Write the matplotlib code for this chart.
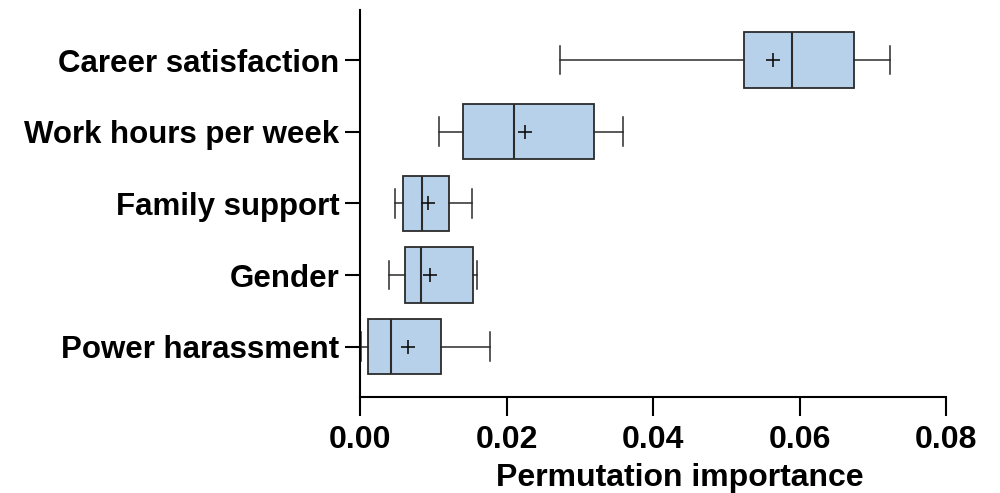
import numpy as np
import matplotlib.pyplot as plt
import matplotlib as mpl

mpl.rcParams['font.family'] = ['Liberation Sans', 'DejaVu Sans']
mpl.rcParams['font.weight'] = 'bold'

# features, bottom to top
features = ['Power harassment', 'Gender', 'Family support',
            'Work hours per week', 'Career satisfaction']
whislo = [0.0002, 0.0039, 0.0048, 0.0108, 0.0273]
q1 = [0.0011, 0.0061, 0.0059, 0.0141, 0.0524]
med = [0.0043, 0.0083, 0.0085, 0.0210, 0.0590]
q3 = [0.0111, 0.0154, 0.0121, 0.0319, 0.0674]
whishi = [0.0177, 0.0160, 0.0153, 0.0359, 0.0723]
mean = [0.0066, 0.0096, 0.0093, 0.0225, 0.0564]

xticks = [0.00, 0.02, 0.04, 0.06, 0.08]

stats = []
for i in range(len(features)):
    stats.append(dict(label=features[i], whislo=whislo[i], q1=q1[i], med=med[i],
                      q3=q3[i], whishi=whishi[i], mean=mean[i], fliers=[]))

fig = plt.figure(figsize=(10, 4.93), dpi=100)
ax = fig.add_axes([0.36, 0.195, 0.586, 0.785])

edge = '#2b2b2b'
ax.bxp(stats, positions=range(len(features)), vert=False, widths=0.77,
       patch_artist=True, showmeans=True, showfliers=False,
       boxprops=dict(facecolor='#b8d1eb', edgecolor=edge, linewidth=1.3),
       medianprops=dict(color=edge, linewidth=1.5),
       whiskerprops=dict(color=edge, linewidth=1.1),
       capprops=dict(color=edge, linewidth=1.1),
       capwidths=0.4,
       meanprops=dict(marker='+', markeredgecolor='#111111', markersize=10,
                      markeredgewidth=1.2))

ax.set_ylim(-0.7, 4.7)
ax.set_xlim(0, 0.08)
ax.set_xticks(xticks)
ax.set_xticklabels(['%.2f' % v for v in xticks], fontsize=23, fontweight='bold')
ax.set_yticks(range(len(features)))
ax.set_yticklabels(features, fontsize=22.5, fontweight='bold')

ax.spines['top'].set_visible(False)
ax.spines['right'].set_visible(False)
ax.spines['left'].set_linewidth(1.5)
ax.spines['bottom'].set_linewidth(1.5)
ax.tick_params(axis='y', length=11, width=1.5, pad=4)
ax.tick_params(axis='x', length=14, width=1.5, pad=6)

ax.set_xlabel('Permutation importance', fontsize=23, fontweight='bold')
ax.xaxis.set_label_coords(0.545, -0.17)

fig.savefig('out.png', dpi=100)
